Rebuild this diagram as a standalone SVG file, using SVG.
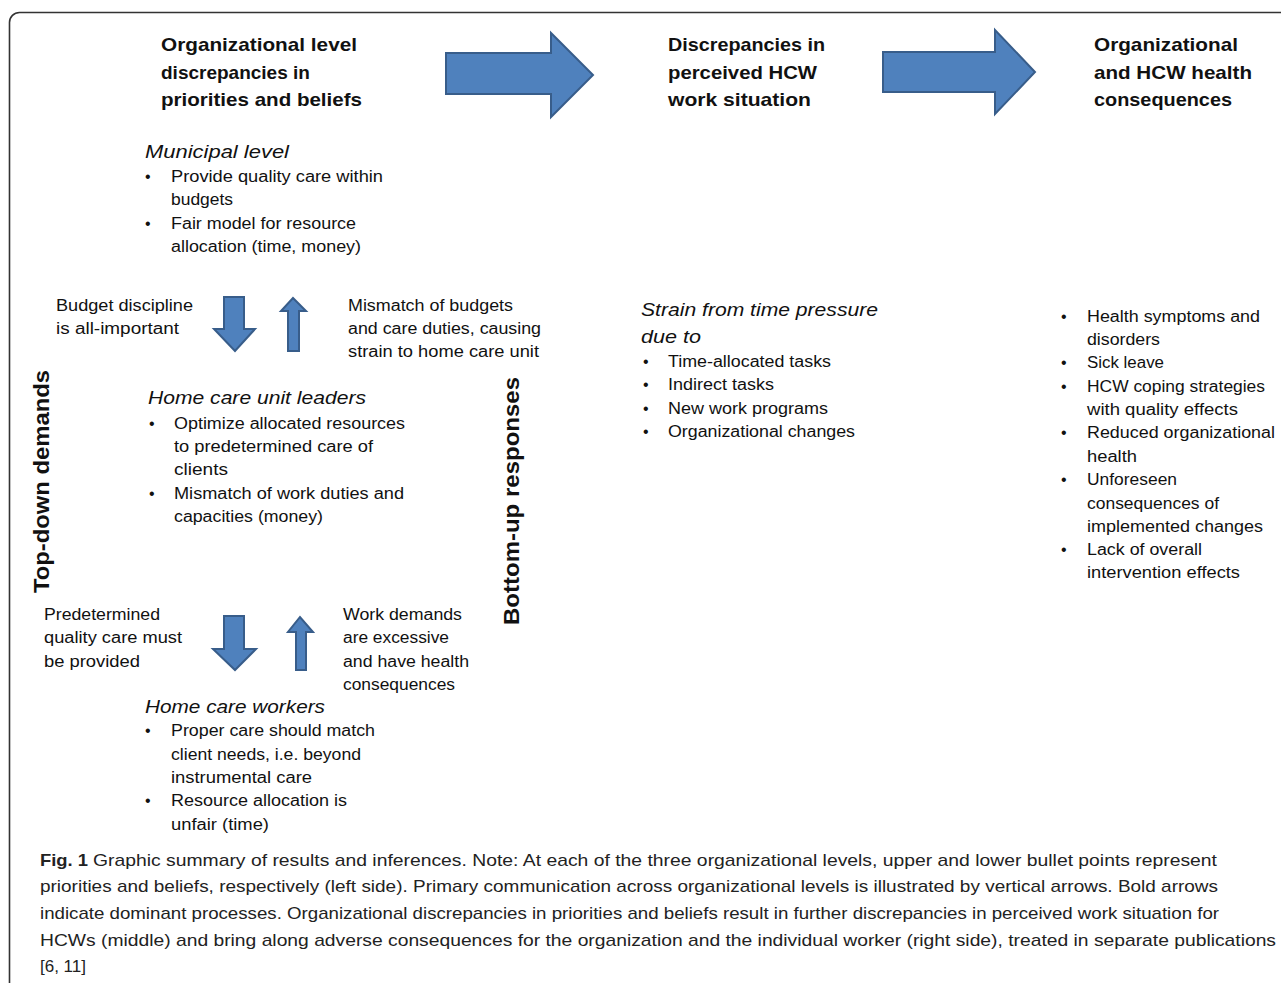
<svg xmlns="http://www.w3.org/2000/svg" width="1281" height="983" viewBox="0 0 1281 983">
<style>
.hd{font-family:"Liberation Sans",Arial,sans-serif;font-weight:bold;font-size:19px;fill:#111}
.it{font-family:"Liberation Sans",Arial,sans-serif;font-style:italic;font-size:19px;fill:#111}
.tx{font-family:"Liberation Sans",Arial,sans-serif;font-size:16px;fill:#111}
.vt{font-family:"Liberation Sans",Arial,sans-serif;font-weight:bold;font-size:22px;fill:#111}
.cap{font-family:"Liberation Sans",Arial,sans-serif;font-size:17px;fill:#222}
.arr{fill:#4F81BD;stroke:#385D8A;stroke-width:2;stroke-linejoin:miter}
</style>
<rect x="9.5" y="12.5" width="1300" height="1000" rx="10" fill="#fff" stroke="#333" stroke-width="1.6"/>

<g id="connectors">
<polygon class="arr" points="446,53 551,53 551,33 593,75 551,117 551,94 446,94"/>
<polygon class="arr" points="883,52 995,52 995,30 1035,72 995,114 995,92 883,92"/>
<polygon class="arr" points="224,297 244,297 244,329 255,329 235,351 214,329 224,329"/>
<polygon class="arr" points="288,351 299,351 299,311 306,311 293,298 281,311 288,311"/>
<polygon class="arr" points="224,616 244,616 244,649 256,649 235,670 213,649 224,649"/>
<polygon class="arr" points="296,670 306,670 306,632 313,632 300,617 288,632 296,632"/>
</g>

<g id="header-left">
<text class="hd" x="161" y="51" textLength="196" lengthAdjust="spacingAndGlyphs">Organizational level</text>
<text class="hd" x="161" y="79">discrepancies in</text>
<text class="hd" x="161" y="106" textLength="201" lengthAdjust="spacingAndGlyphs">priorities and beliefs</text>
</g>
<g id="header-middle">
<text class="hd" x="668" y="51" textLength="157" lengthAdjust="spacingAndGlyphs">Discrepancies in</text>
<text class="hd" x="668" y="79" textLength="149" lengthAdjust="spacingAndGlyphs">perceived HCW</text>
<text class="hd" x="668" y="106" textLength="143" lengthAdjust="spacingAndGlyphs">work situation</text>
</g>
<g id="header-right">
<text class="hd" x="1094" y="51" textLength="144" lengthAdjust="spacingAndGlyphs">Organizational</text>
<text class="hd" x="1094" y="79" textLength="158" lengthAdjust="spacingAndGlyphs">and HCW health</text>
<text class="hd" x="1094" y="106" textLength="138" lengthAdjust="spacingAndGlyphs">consequences</text>
</g>

<g id="municipal">
<text class="it" x="145" y="158" textLength="144" lengthAdjust="spacingAndGlyphs">Municipal level</text>
<text class="tx" x="145" y="182">•</text>
<text class="tx" x="171" y="182" textLength="212" lengthAdjust="spacingAndGlyphs">Provide quality care within</text>
<text class="tx" x="171" y="205" textLength="62" lengthAdjust="spacingAndGlyphs">budgets</text>
<text class="tx" x="145" y="229">•</text>
<text class="tx" x="171" y="229" textLength="185" lengthAdjust="spacingAndGlyphs">Fair model for resource</text>
<text class="tx" x="171" y="252" textLength="190" lengthAdjust="spacingAndGlyphs">allocation (time, money)</text>
</g>

<g id="budget-discipline">
<text class="tx" x="56" y="311" textLength="137" lengthAdjust="spacingAndGlyphs">Budget  discipline</text>
<text class="tx" x="56" y="334" textLength="123" lengthAdjust="spacingAndGlyphs">is all-important</text>
</g>
<g id="mismatch-budgets">
<text class="tx" x="348" y="311" textLength="165" lengthAdjust="spacingAndGlyphs">Mismatch of budgets</text>
<text class="tx" x="348" y="334" textLength="193" lengthAdjust="spacingAndGlyphs">and care duties, causing</text>
<text class="tx" x="348" y="357" textLength="191" lengthAdjust="spacingAndGlyphs">strain to home  care unit</text>
</g>

<g id="unit-leaders">
<text class="it" x="148" y="404" textLength="218" lengthAdjust="spacingAndGlyphs">Home care unit leaders</text>
<text class="tx" x="149" y="429">•</text>
<text class="tx" x="174" y="429" textLength="231" lengthAdjust="spacingAndGlyphs">Optimize allocated resources</text>
<text class="tx" x="174" y="452" textLength="199" lengthAdjust="spacingAndGlyphs">to predetermined  care of</text>
<text class="tx" x="174" y="475" textLength="54" lengthAdjust="spacingAndGlyphs">clients</text>
<text class="tx" x="149" y="499">•</text>
<text class="tx" x="174" y="499" textLength="230" lengthAdjust="spacingAndGlyphs">Mismatch of work duties and</text>
<text class="tx" x="174" y="522" textLength="149" lengthAdjust="spacingAndGlyphs">capacities (money)</text>
</g>

<g id="top-down">
<text class="vt" transform="translate(49,593) rotate(-90)" x="0" y="0" textLength="223" lengthAdjust="spacingAndGlyphs">Top-down demands</text>
</g>
<g id="bottom-up">
<text class="vt" transform="translate(519,625) rotate(-90)" x="0" y="0" textLength="248" lengthAdjust="spacingAndGlyphs">Bottom-up responses</text>
</g>

<g id="predetermined">
<text class="tx" x="44" y="620" textLength="116" lengthAdjust="spacingAndGlyphs">Predetermined</text>
<text class="tx" x="44" y="643" textLength="138" lengthAdjust="spacingAndGlyphs">quality care must</text>
<text class="tx" x="44" y="667" textLength="96" lengthAdjust="spacingAndGlyphs">be  provided</text>
</g>
<g id="work-demands">
<text class="tx" x="343" y="620" textLength="119" lengthAdjust="spacingAndGlyphs">Work demands</text>
<text class="tx" x="343" y="643" textLength="106" lengthAdjust="spacingAndGlyphs">are excessive</text>
<text class="tx" x="343" y="667" textLength="126" lengthAdjust="spacingAndGlyphs">and have health</text>
<text class="tx" x="343" y="690" textLength="112" lengthAdjust="spacingAndGlyphs">consequences</text>
</g>

<g id="workers">
<text class="it" x="145" y="713" textLength="180" lengthAdjust="spacingAndGlyphs">Home care workers</text>
<text class="tx" x="145" y="736">•</text>
<text class="tx" x="171" y="736" textLength="204" lengthAdjust="spacingAndGlyphs">Proper care should match</text>
<text class="tx" x="171" y="760" textLength="190" lengthAdjust="spacingAndGlyphs">client needs,  i.e. beyond</text>
<text class="tx" x="171" y="783" textLength="141" lengthAdjust="spacingAndGlyphs">instrumental care</text>
<text class="tx" x="145" y="806">•</text>
<text class="tx" x="171" y="806" textLength="176" lengthAdjust="spacingAndGlyphs">Resource allocation is</text>
<text class="tx" x="171" y="830" textLength="98" lengthAdjust="spacingAndGlyphs">unfair (time)</text>
</g>

<g id="strain">
<text class="it" x="641" y="316" textLength="237" lengthAdjust="spacingAndGlyphs">Strain from time pressure</text>
<text class="it" x="641" y="343" textLength="60" lengthAdjust="spacingAndGlyphs">due to</text>
<text class="tx" x="643" y="367">•</text>
<text class="tx" x="668" y="367" textLength="163" lengthAdjust="spacingAndGlyphs">Time-allocated tasks</text>
<text class="tx" x="643" y="390">•</text>
<text class="tx" x="668" y="390" textLength="106" lengthAdjust="spacingAndGlyphs">Indirect tasks</text>
<text class="tx" x="643" y="414">•</text>
<text class="tx" x="668" y="414" textLength="160" lengthAdjust="spacingAndGlyphs">New  work programs</text>
<text class="tx" x="643" y="437">•</text>
<text class="tx" x="668" y="437" textLength="187" lengthAdjust="spacingAndGlyphs">Organizational changes</text>
</g>

<g id="consequences">
<text class="tx" x="1061" y="322">•</text>
<text class="tx" x="1087" y="322" textLength="173" lengthAdjust="spacingAndGlyphs">Health symptoms and</text>
<text class="tx" x="1087" y="345" textLength="73" lengthAdjust="spacingAndGlyphs">disorders</text>
<text class="tx" x="1061" y="368">•</text>
<text class="tx" x="1087" y="368" textLength="77" lengthAdjust="spacingAndGlyphs">Sick leave</text>
<text class="tx" x="1061" y="392">•</text>
<text class="tx" x="1087" y="392" textLength="178" lengthAdjust="spacingAndGlyphs">HCW coping strategies</text>
<text class="tx" x="1087" y="415" textLength="151" lengthAdjust="spacingAndGlyphs">with quality effects</text>
<text class="tx" x="1061" y="438">•</text>
<text class="tx" x="1087" y="438" textLength="188" lengthAdjust="spacingAndGlyphs">Reduced organizational</text>
<text class="tx" x="1087" y="462" textLength="50" lengthAdjust="spacingAndGlyphs">health</text>
<text class="tx" x="1061" y="485">•</text>
<text class="tx" x="1087" y="485" textLength="90" lengthAdjust="spacingAndGlyphs">Unforeseen</text>
<text class="tx" x="1087" y="509" textLength="132" lengthAdjust="spacingAndGlyphs">consequences of</text>
<text class="tx" x="1087" y="532" textLength="176" lengthAdjust="spacingAndGlyphs">implemented  changes</text>
<text class="tx" x="1061" y="555">•</text>
<text class="tx" x="1087" y="555" textLength="115" lengthAdjust="spacingAndGlyphs">Lack of overall</text>
<text class="tx" x="1087" y="578" textLength="153" lengthAdjust="spacingAndGlyphs">intervention effects</text>
</g>

<g id="caption">
<text class="cap" x="40" y="866" font-weight="bold" textLength="48" lengthAdjust="spacingAndGlyphs">Fig. 1</text>
<text class="cap" x="93" y="866" textLength="1124" lengthAdjust="spacingAndGlyphs">Graphic summary of results and inferences. Note: At each of the three organizational levels, upper and lower bullet points represent</text>
<text class="cap" x="40" y="892" textLength="1178" lengthAdjust="spacingAndGlyphs">priorities and beliefs, respectively (left side). Primary communication across organizational levels is illustrated by vertical arrows. Bold arrows</text>
<text class="cap" x="40" y="919" textLength="1179" lengthAdjust="spacingAndGlyphs">indicate dominant processes. Organizational discrepancies in priorities and beliefs result in further discrepancies in perceived work situation for</text>
<text class="cap" x="40" y="946" textLength="1236" lengthAdjust="spacingAndGlyphs">HCWs (middle) and bring along adverse consequences for the organization and the individual worker (right side), treated in separate publications</text>
<text class="cap" x="40" y="972">[6, 11]</text>
</g>
</svg>
